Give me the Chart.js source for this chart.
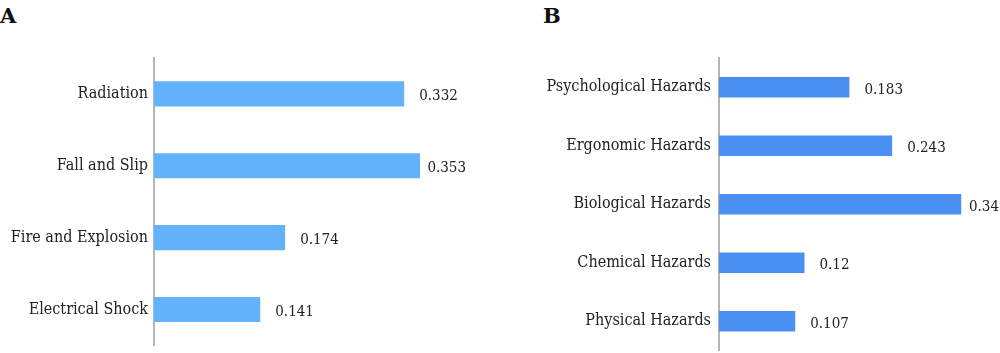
<!DOCTYPE html>
<html>
<head>
<meta charset="utf-8">
<script src="https://cdn.jsdelivr.net/npm/chart.js@4"></script>
<style>
  body { margin: 0; background: #fff; width: 1000px; height: 353px; position: relative; overflow: hidden; }
  .panel { position: absolute; top: 0; }
  .tag { position: absolute; top: 3px; font: bold 21px "DejaVu Serif", serif; color: #111; }
</style>
</head>
<body>
<div class="tag" style="left:0px">A</div>
<div class="tag" style="left:543px">B</div>
<div class="panel" style="left:0; width:480px; height:361px"><canvas id="chartA"></canvas></div>
<div class="panel" style="left:500px; width:500px; height:368px"><canvas id="chartB"></canvas></div>
<script>
// panel A: accident types
var labelsA = ['Radiation', 'Fall and Slip', 'Fire and Explosion', 'Electrical Shock'];
var valuesA = [0.332, 0.353, 0.174, 0.141];

// panel B: hazard groups
var labelsB = ['Psychological Hazards', 'Ergonomic Hazards', 'Biological Hazards', 'Chemical Hazards', 'Physical Hazards'];
var valuesB = [0.183, 0.243, 0.34, 0.12, 0.107];

var FONT = '"DejaVu Serif Condensed", "DejaVu Serif", serif';
Chart.defaults.font.family = FONT;
Chart.defaults.color = '#222';

// writes the value right of each bar, pulled in if it would run off the plot
var valueLabels = {
    id: 'valueLabels',
    afterDatasetsDraw: function (chart) {
        var ctx = chart.ctx;
        var meta = chart.getDatasetMeta(0);
        var data = chart.data.datasets[0].data;
        ctx.save();
        ctx.font = '15px ' + FONT;
        ctx.fillStyle = '#222';
        ctx.textBaseline = 'middle';
        meta.data.forEach(function (bar, i) {
            var txt = String(data[i]);
            var w = ctx.measureText(txt).width;
            var x = Math.min(bar.x + 15, chart.chartArea.right - w);
            ctx.fillText(txt, x, bar.y + 2.5);
        });
        ctx.restore();
    }
};

function makeChart(id, labels, values, color, opts) {
    return new Chart(document.getElementById(id), {
        type: 'bar',
        data: {
            labels: labels,
            datasets: [{
                data: values,
                backgroundColor: color,
                borderWidth: 0,
                barPercentage: 0.35,
                categoryPercentage: 1
            }]
        },
        options: {
            indexAxis: 'y',
            responsive: true,
            maintainAspectRatio: false,
            animation: false,
            layout: { padding: { top: 58, bottom: 0, right: opts.right, left: 0 } },
            plugins: { legend: { display: false }, tooltip: { enabled: false } },
            scales: {
                x: { display: false, min: 0, max: opts.max },
                y: {
                    grid: { display: false, drawTicks: false },
                    border: { color: '#b4b4b4', width: 2 },
                    ticks: { font: { size: 16 }, color: '#222', padding: opts.pad },
                    afterFit: function (s) { s.width = opts.axisW; }
                }
            }
        },
        plugins: [valueLabels]
    });
}

makeChart('chartA', labelsA, valuesA, '#62b3fc', { max: 0.414, axisW: 154, pad: 6, right: 14 });
makeChart('chartB', labelsB, valuesB, '#4a8ff2', { max: 0.393, axisW: 219, pad: 8, right: 1 });
</script>
</body>
</html>
